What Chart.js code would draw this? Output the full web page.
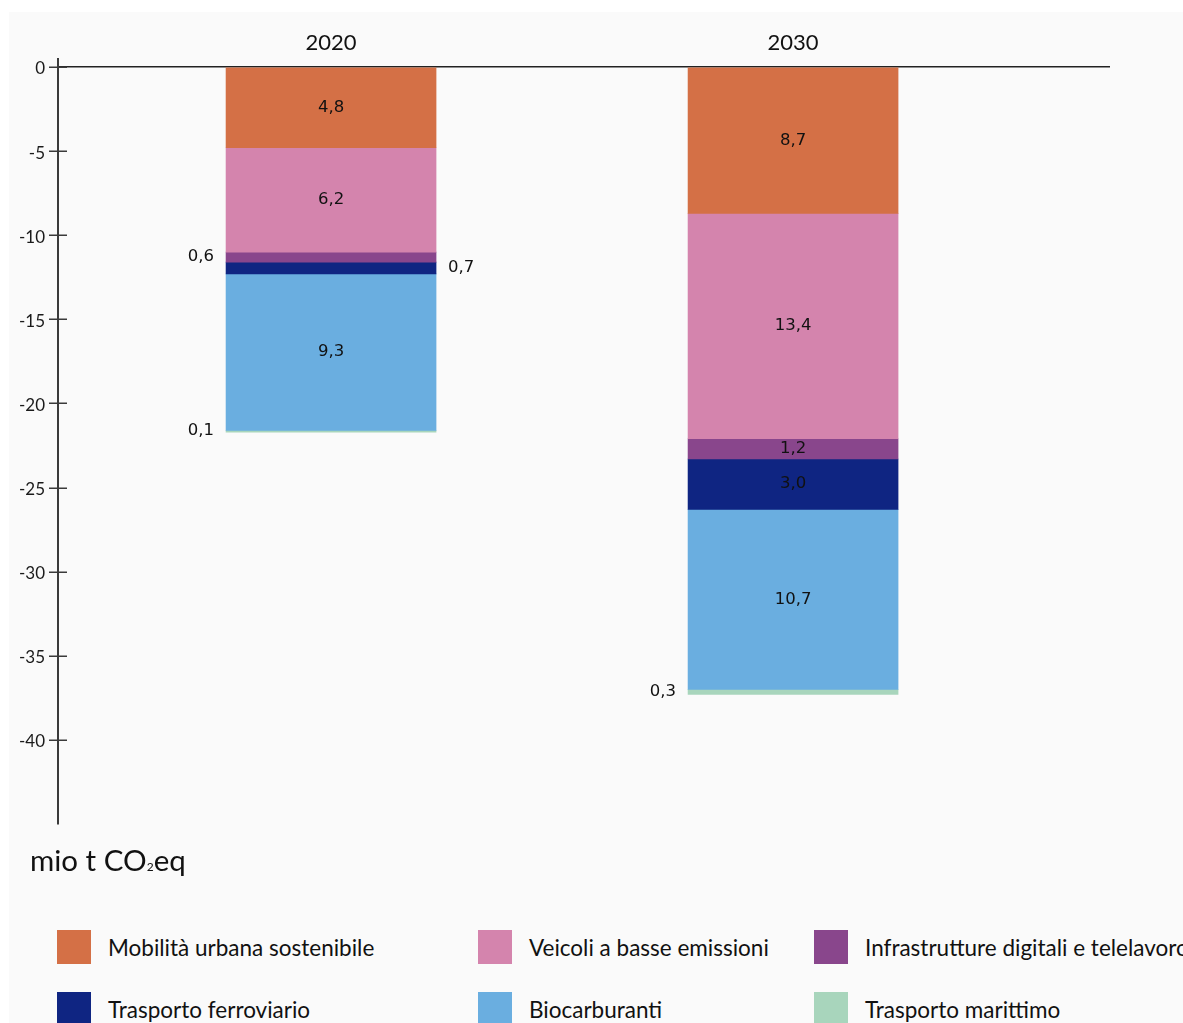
<!DOCTYPE html>
<html lang="it">
<head>
<meta charset="utf-8">
<title>Riduzione delle emissioni nei trasporti</title>
<script src="https://cdn.jsdelivr.net/npm/chart.js@4/dist/chart.umd.min.js"></script>
<style>
  html, body { margin: 0; padding: 0; width: 1183px; height: 1023px; overflow: hidden; background: #ffffff; }
  #panel { position: absolute; left: 9px; top: 12px; right: 0; bottom: 0; background: #fafafa; }
  #wrap { position: absolute; left: 0; top: 0; width: 1183px; height: 880px; }
  #unit { position: absolute; left: 30px; top: 842px; font: 29.5px Lato, sans-serif; color: #111; white-space: nowrap; }
  #unit .sub { font-size: 12px; }
  .item { position: absolute; display: flex; align-items: center; white-space: nowrap; font: 22.5px Lato, sans-serif; color: #111; }
  .swatch { width: 34px; height: 34px; margin-right: 17px; flex: none; }
</style>
</head>
<body>
<div id="panel"></div>
<div id="wrap"><canvas id="chart"></canvas></div>
<div id="unit">mio t CO<span class="sub">2</span>eq</div>
<div id="legend"></div>
<script>
// Years shown on the top axis
const categories = ['2020', '2030'];

// Emission reductions per measure, in million t CO2eq
const seriesNames = [
  'Mobilità urbana sostenibile',
  'Veicoli a basse emissioni',
  'Infrastrutture digitali e telelavoro',
  'Trasporto ferroviario',
  'Biocarburanti',
  'Trasporto marittimo'
];
const mobilitaUrbana = [4.8, 8.7];
const veicoliBasseEmissioni = [6.2, 13.4];
const infrastruttureDigitali = [0.6, 1.2];
const trasportoFerroviario = [0.7, 3.0];
const biocarburanti = [9.3, 10.7];
const trasportoMarittimo = [0.1, 0.3];

// Value axis ticks
const yTicks = [0, -5, -10, -15, -20, -25, -30, -35, -40];

const seriesValues = [
  mobilitaUrbana, veicoliBasseEmissioni, infrastruttureDigitali,
  trasportoFerroviario, biocarburanti, trasportoMarittimo
];
const seriesColors = ['#d47046', '#d484ad', '#89468c', '#0f2582', '#6aaee0', '#a8d5bc'];

const fmt = v => v.toFixed(1).replace('.', ',');

// Segment labels: large segments labelled inside, thin ones beside the bar
const segmentLabels = {
  id: 'segmentLabels',
  afterDatasetsDraw(chart) {
    const ctx = chart.ctx;
    ctx.save();
    ctx.font = '16.5px "DejaVu Sans", sans-serif';
    ctx.fillStyle = '#111';
    ctx.textBaseline = 'middle';
    const prevSide = {};
    chart.data.datasets.forEach((ds, i) => {
      const meta = chart.getDatasetMeta(i);
      meta.data.forEach((bar, j) => {
        const v = seriesValues[i][j];
        const p = bar.getProps(['x', 'y', 'base', 'width'], true);
        const cy = (p.y + p.base) / 2;
        if (v >= 1) {
          ctx.textAlign = 'center';
          ctx.fillText(fmt(v), p.x, cy);
          prevSide[j] = null;
        } else {
          const side = prevSide[j] === 'left' ? 'right' : 'left';
          if (side === 'left') {
            ctx.textAlign = 'right';
            ctx.fillText(fmt(v), p.x - p.width / 2 - 12, cy);
          } else {
            ctx.textAlign = 'left';
            ctx.fillText(fmt(v), p.x + p.width / 2 + 12, cy);
          }
          prevSide[j] = side;
        }
      });
    });
    ctx.restore();
  }
};

// Tick marks crossing the value axis on both sides
const crossTicks = {
  id: 'crossTicks',
  afterDraw(chart) {
    const ctx = chart.ctx;
    const y = chart.scales.y;
    const x0 = chart.chartArea.left;
    ctx.save();
    ctx.strokeStyle = '#3a3a3a';
    ctx.lineWidth = 1.5;
    y.ticks.forEach(t => {
      const py = Math.round(y.getPixelForValue(t.value)) + 0.25;
      ctx.beginPath();
      ctx.moveTo(x0 - 9, py);
      ctx.lineTo(x0 + 9, py);
      ctx.stroke();
    });
    ctx.restore();
  }
};

Chart.defaults.font.family = 'Lato, sans-serif';

new Chart(document.getElementById('chart'), {
  type: 'bar',
  data: {
    datasets: seriesNames.map((name, i) => ({
      label: name,
      data: seriesValues[i].map((v, j) => ({ x: Number(categories[j]), y: -v })),
      backgroundColor: seriesColors[i],
      borderWidth: 0,
      barThickness: 210,
      grouped: false
    }))
  },
  options: {
    responsive: true,
    maintainAspectRatio: false,
    animation: false,
    layout: { padding: { left: 0, right: 73, top: 0, bottom: 56 } },
    plugins: { legend: { display: false }, tooltip: { enabled: false } },
    scales: {
      x: {
        type: 'linear',
        position: 'top',
        offset: false,
        min: Number(categories[0]) - 5.91,
        max: Number(categories[categories.length - 1]) + 6.86,
        afterBuildTicks: s => { s.ticks = categories.map(c => ({ value: Number(c) })); },
        afterFit: s => { s.height = 58.6; },
        grid: { display: false },
        border: { display: false },
        ticks: {
          callback: v => String(v),
          font: { size: 22 },
          color: '#111',
          padding: -6,
          maxRotation: 0
        }
      },
      y: {
        stacked: true,
        min: -45,
        max: 0.5,
        afterBuildTicks: s => { s.ticks = yTicks.map(v => ({ value: v })); },
        afterFit: s => { s.width = 58; },
        border: { display: true, color: '#3a3a3a', width: 2 },
        grid: {
          drawTicks: false,
          color: c => (c.tick && c.tick.value === 0 ? '#222' : 'rgba(0,0,0,0)'),
          lineWidth: 1.5
        },
        ticks: {
          callback: v => String(v),
          font: { size: 17 },
          color: '#1a1a1a',
          padding: 13,
          labelOffset: 2
        }
      }
    }
  },
  plugins: [segmentLabels, crossTicks]
});

// Legend laid out as a three-column grid
const legend = document.getElementById('legend');
const colLefts = [57, 478, 814];
const rowTops = [930, 992];
seriesNames.forEach((name, i) => {
  const item = document.createElement('div');
  item.className = 'item';
  item.style.left = colLefts[i % 3] + 'px';
  item.style.top = rowTops[Math.floor(i / 3)] + 'px';
  const sw = document.createElement('span');
  sw.className = 'swatch';
  sw.style.background = seriesColors[i];
  const tx = document.createElement('span');
  tx.textContent = name;
  item.appendChild(sw);
  item.appendChild(tx);
  legend.appendChild(item);
});
</script>
</body>
</html>
